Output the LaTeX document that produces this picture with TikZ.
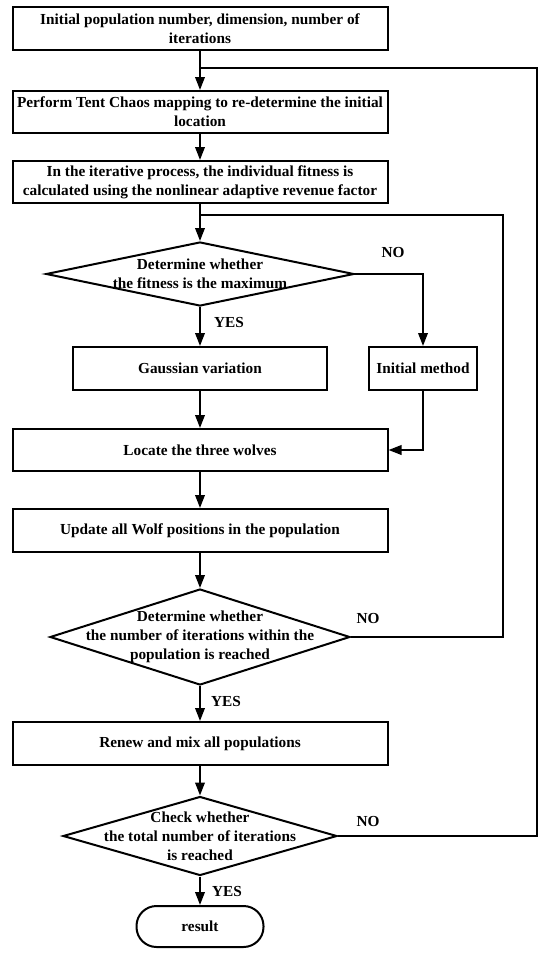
\documentclass[tikz,border=0pt]{standalone}
\usepackage{fontspec}
\setmainfont{Liberation Serif}
\usetikzlibrary{shapes.geometric,arrows.meta}
\begin{document}
\begin{tikzpicture}[x=1pt,y=-1pt,
  every node/.style={font=\bfseries\fontsize{15.3}{19}\selectfont},
  proc/.style={draw,line width=2pt,rectangle,inner sep=0pt,align=center},
  wide/.style={proc,minimum width=375pt,minimum height=43pt},
  dia/.style={draw,line width=2pt,diamond,inner sep=0pt},
  dtext/.style={align=center},
  term/.style={draw,line width=2pt,rectangle,rounded corners=20pt,inner sep=0pt,minimum width=127pt,minimum height=41pt},
  lab/.style={inner sep=0pt},
  conn/.style={line width=2pt},
  arr/.style={conn,-{Triangle[length=13pt,width=9.5pt]}}]
\useasboundingbox (0,0) rectangle (550,956);

\node[wide] (b1) at (200,28.5) {Initial population number, dimension, number of\\iterations};
\node[wide,minimum height=42pt] (b2) at (200,112) {Perform Tent Chaos mapping to re-determine the initial\\location};
\node[wide,minimum height=42pt] (b3) at (200,182) {In the iterative process, the individual fitness is\\calculated using the nonlinear adaptive revenue factor};

\node[dia,minimum width=308pt,minimum height=64pt,label={[dtext]center:Determine whether\\the fitness is the maximum}] (d1) at (200,274) {};

\node[proc,minimum width=254pt,minimum height=43pt] (gauss) at (200,368.5) {Gaussian variation};
\node[proc,minimum width=108pt,minimum height=43pt] (init) at (423,368.5) {Initial method};

\node[wide,minimum height=42pt] (loc) at (200,450) {Locate the three wolves};
\node[wide] (upd) at (200,530.5) {Update all Wolf positions in the population};

\node[dia,minimum width=300pt,minimum height=96pt,label={[dtext]center:Determine whether\\the number of iterations within the\\population is reached}] (d2) at (200,637) {};

\node[wide] (ren) at (200,743.5) {Renew and mix all populations};

\node[dia,minimum width=274pt,minimum height=79pt,label={[dtext]center:Check whether\\the total number of iterations\\is reached}] (d3) at (200,836) {};

\node[term] (res) at (200,926.5) {result};

\coordinate (j1) at (200,68);
\coordinate (r1) at (537,68);
\coordinate (j2) at (200,215);
\coordinate (r2) at (503,215);

\draw[arr] (b1) -- (b2);
\draw[arr] (b2) -- (b3);
\draw[arr] (b3) -- (d1);
\draw[arr] (d1) -- (gauss);
\draw[arr] (d1.east) -| (init.north);
\draw[arr] (gauss) -- (loc);
\draw[arr] (init.south) |- (loc.east);
\draw[arr] (loc) -- (upd);
\draw[arr] (upd) -- (d2);
\draw[arr] (d2) -- (ren);
\draw[arr] (ren) -- (d3);
\draw[arr] (d3) -- (res);
\draw[conn] (d3.east) -| (r1) -- (j1);
\draw[conn] (d2.east) -| (r2) -- (j2);

\node[lab] (no1) at (393,253) {NO};
\node[lab] (yes1) at (229,323) {YES};
\node[lab] (no2) at (368,619) {NO};
\node[lab] (yes2) at (226,701) {YES};
\node[lab] (no3) at (368,821) {NO};
\node[lab] (yes3) at (227,891) {YES};
\end{tikzpicture}
\end{document}
